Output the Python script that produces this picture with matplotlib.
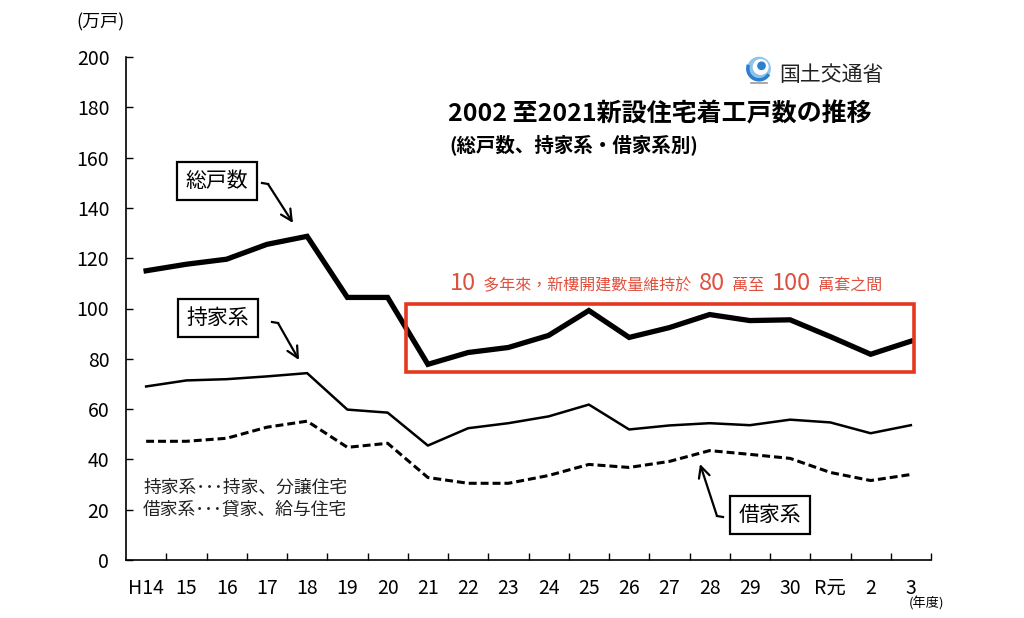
import matplotlib
matplotlib.use("Agg")
import matplotlib.pyplot as plt
from matplotlib.patches import Rectangle, Arc, Circle
from matplotlib.lines import Line2D

plt.rcParams['font.family'] = ['Noto Sans CJK JP', 'DejaVu Sans']

years = ["H14", "15", "16", "17", "18", "19", "20", "21", "22", "23", "24", "25",
         "26", "27", "28", "29", "30", "R元", "2", "3"]
total = [115.0, 117.6, 119.6, 125.5, 128.7, 104.4, 104.4, 77.8, 82.5, 84.5, 89.3, 99.2,
         88.5, 92.4, 97.6, 95.2, 95.5, 88.8, 81.8, 87.0]
owned = [69.0, 71.4, 71.9, 73.0, 74.3, 59.8, 58.6, 45.5, 52.4, 54.4, 57.1, 61.8,
         51.9, 53.5, 54.4, 53.6, 55.8, 54.7, 50.4, 53.6]
rental = [47.2, 47.2, 48.4, 52.8, 55.2, 44.8, 46.4, 32.8, 30.5, 30.5, 33.6, 38.0,
          36.8, 39.2, 43.5, 42.0, 40.4, 34.8, 31.6, 34.0]

W, H = 1024, 618
fig = plt.figure(figsize=(W / 100, H / 100), dpi=100)
fig.patch.set_facecolor("white")

def fx(px):
    return px / W

def fy(py):
    return 1 - py / H

ax = fig.add_axes([fx(126), fy(560), fx(931) - fx(126), fy(57) - fy(560)])
x = list(range(len(years)))
ax.plot(x, total, color="black", lw=3.8, solid_joinstyle="miter", zorder=3)
ax.plot(x, owned, color="black", lw=1.8, zorder=3)
ax.plot(x, rental, color="black", lw=2.2, ls=(0, (2.6, 1.3)), zorder=3)

ax.set_xlim(-0.5, 19.5)
ax.set_ylim(0, 200)
ax.set_yticks(range(0, 201, 20))
ax.set_xticks(x)
ax.set_xticklabels(years)
ax.set_xticks([i + 0.5 for i in x], minor=True)
ax.tick_params(axis="x", which="major", length=0, pad=13, labelsize=14)
ax.tick_params(axis="x", which="minor", length=5, direction="in", width=1)
ax.tick_params(axis="y", length=5, direction="in", width=1, labelsize=14, pad=12)
for s in ["top", "right"]:
    ax.spines[s].set_visible(False)
for s in ["left", "bottom"]:
    ax.spines[s].set_linewidth(1.2)

# red box
ax.add_patch(Rectangle((6.46, 74.8), 19.08 - 6.46, 101.8 - 74.8, fill=False,
                       edgecolor="#e5391f", lw=2.6, zorder=4))

# unit labels
fig.text(fx(100), fy(22), "(万戸)", ha="center", va="center", fontsize=13)
fig.text(fx(926), fy(604), "(年度)", ha="center", va="center", fontsize=9.5)

# title
fig.text(fx(448), fy(114), "2002 至2021新設住宅着工戸数の推移", ha="left", va="center",
         fontsize=18, fontweight="bold")
fig.text(fx(449), fy(145), "(総戸数、持家系・借家系別)", ha="left", va="center",
         fontsize=14, fontweight="bold")

# logo
fig.text(fx(779), fy(75), "国土交通省", ha="left", va="center", fontsize=15, color="#222222")
lax = fig.add_axes([fx(745), fy(84), 28 / W, 28 / H])
lax.set_xlim(-1, 1)
lax.set_ylim(-1, 1)
lax.set_aspect("equal")
lax.axis("off")
lax.add_patch(Circle((0, 0.1), 0.8, color="#8fc4ea"))
lax.add_patch(Circle((0.12, 0.22), 0.52, color="white"))
lax.add_patch(Arc((0, 0.1), 1.6, 1.6, theta1=160, theta2=330, color="#2b7fcf", lw=2.5))
lax.add_patch(Circle((0.18, 0.3), 0.26, color="#2b7fcf"))
lax.plot([-0.55, 0.55], [-0.95, -0.95], color="#999999", lw=1.2)

# series label boxes
bbox = dict(boxstyle="square,pad=0.4", fc="white", ec="black", lw=1.6)
fig.text(fx(217), fy(181), "総戸数", ha="center", va="center", fontsize=15, bbox=bbox)
fig.text(fx(218), fy(318), "持家系", ha="center", va="center", fontsize=15, bbox=bbox)
fig.text(fx(770), fy(515), "借家系", ha="center", va="center", fontsize=15, bbox=bbox)

def hooked_arrow(p0, p1, p2):
    fig.add_artist(Line2D([fx(p0[0]), fx(p1[0])], [fy(p0[1]), fy(p1[1])],
                          transform=fig.transFigure, color="black", lw=1.6))
    fig.add_artist(plt.Annotation("", xy=(fx(p2[0]), fy(p2[1])), xytext=(fx(p1[0]), fy(p1[1])),
                                  xycoords="figure fraction", textcoords="figure fraction",
                                  arrowprops=dict(arrowstyle="->,head_length=0.8,head_width=0.4",
                                                  lw=1.6, color="black", shrinkA=0, shrinkB=0)))

hooked_arrow((262, 183), (268, 184), (293, 223))
hooked_arrow((272, 322), (278, 323), (299, 360))
hooked_arrow((723, 517), (717, 516), (700, 464))

# notes
fig.text(fx(143), fy(488), "持家系･･･持家、分譲住宅", ha="left", va="center", fontsize=12.8,
         color="#222222")
fig.text(fx(143), fy(509), "借家系･･･貸家、給与住宅", ha="left", va="center", fontsize=12.8,
         color="#222222")

# red annotation built from pieces
red = "#e0503f"
pieces = [("10", 17), ("  多年來，新樓開建數量維持於  ", 11.5), ("80", 17), ("  萬至  ", 11.5),
          ("100", 17), ("  萬套之間", 11.5)]
fam = ["Noto Sans CJK TC", "DejaVu Sans"]
renderer = fig.canvas.get_renderer()
texts = []
cursor = 0.0
for s, sz in pieces:
    t = fig.text(0, fy(290), s, ha="left", va="baseline", fontsize=sz, color=red, family=fam)
    bb = t.get_window_extent(renderer)
    texts.append((t, cursor))
    cursor += bb.width
start = 666 - cursor / 2
for t, off in texts:
    t.set_x(fx(start + off))

fig.savefig("out.png", dpi=100, facecolor="white")
